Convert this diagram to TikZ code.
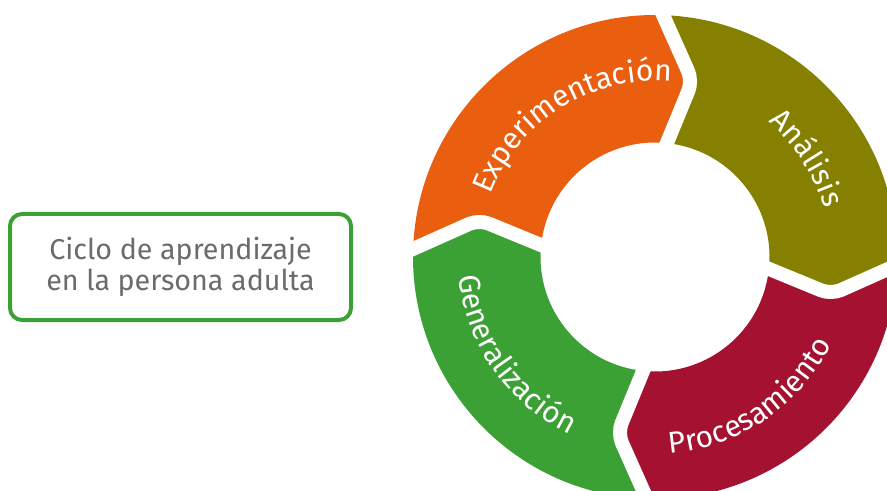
\documentclass[tikz,border=0pt]{standalone}
\usepackage{fontspec}
\setmainfont{Fira Sans}
\usepackage{tikz}
\usetikzlibrary{decorations.text}

\definecolor{naranja}{HTML}{E95E0F}
\definecolor{oliva}{HTML}{858000}
\definecolor{granate}{HTML}{A51130}
\definecolor{verde}{HTML}{3BA135}
\definecolor{gristexto}{HTML}{6B6B6B}

\newcommand{\ringfont}{\fontsize{22.5pt}{27pt}\selectfont}

\begin{document}
\begin{tikzpicture}[x=0.75pt,y=0.75pt,yscale=-1,xscale=1,
  gapline/.style={draw=white,line width=10.5pt,rounded corners=8pt},
  ringlabel/.style={decorate,decoration={text along path,text align=center,text={|\ringfont\color{white}|#1}}},
  titlebox/.style={draw=verde,line width=3pt,rounded corners=9pt,minimum width=255.75pt,minimum height=79.5pt,
    align=center,text=gristexto,font=\fontsize{21.5pt}{23.25pt}\selectfont}]
        \useasboundingbox (0,0) rectangle (887,491);
        \clip (0,0) rectangle (887,491);

        \node[titlebox] (title) at (180.5,267) {Ciclo de aprendizaje\\en la persona adulta};

        \begin{scope}[shift={(655,257)}]
          % four arrow segments, clockwise
          \foreach \t/\c in {-175/naranja,-85/oliva,5/granate,95/verde}{
            \pgfmathsetmacro{\h}{\t+90}
            \fill[\c] (\t-2.5:242) arc[start angle=\t-2.5,end angle=\h-2.5,radius=242] -- (\h+7:180)
              -- (\h:114.5) arc[start angle=\h,end angle=\t,radius=114.5] -- (\t+7:180) -- cycle;
          }
          \foreach \b in {-85,5,95,185}
            \draw[gapline] (\b-5:260) -- (\b+7:180) -- (\b-1.5:100);

          \path[ringlabel=Experimentación] (-172:176) arc[start angle=-172,end angle=-72,radius=176];
          \path[ringlabel=Análisis] (-83:176) arc[start angle=-83,end angle=17,radius=176];
          \path[ringlabel=Procesamiento] (111:197) arc[start angle=111,end angle=1,radius=197];
          \path[ringlabel=Generalización] (200:197) arc[start angle=200,end angle=90,radius=197];
        \end{scope}
\end{tikzpicture}
\end{document}
